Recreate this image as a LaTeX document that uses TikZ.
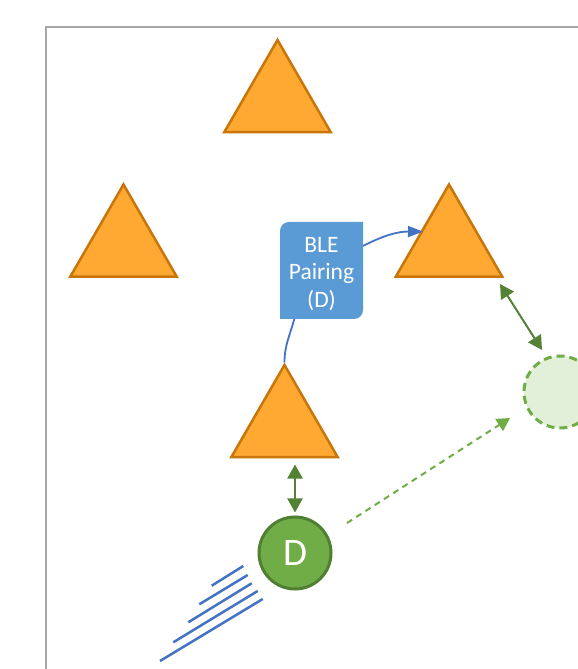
\documentclass[tikz,border=0pt]{standalone}
\usepackage{fontspec}
\setmainfont{Carlito}
\usetikzlibrary{arrows.meta,shapes.geometric}
\definecolor{triFill}{RGB}{255,169,51}
\definecolor{triLine}{RGB}{200,118,10}
\definecolor{bleBlue}{RGB}{91,155,213}
\definecolor{curveBlue}{RGB}{68,114,196}
\definecolor{darkGreen}{RGB}{84,130,53}
\definecolor{midGreen}{RGB}{112,173,71}
\definecolor{circLine}{RGB}{80,126,50}
\definecolor{paleGreen}{RGB}{226,240,217}
\definecolor{frameGray}{RGB}{166,166,166}
\tikzset{
  tri/.style={regular polygon, regular polygon sides=3, minimum size=123pt, inner sep=0pt,
    fill=triFill, draw=triLine, line width=2.5pt, line join=miter},
  blebox/.style={minimum width=83pt, minimum height=97pt, inner sep=0pt, text=white,
    align=center, font=\fontsize{23.5}{27.5}\selectfont},
  devnode/.style={circle, minimum size=72pt, inner sep=0pt, fill=midGreen, draw=circLine,
    line width=3pt, text=white, font=\fontsize{39}{40}\selectfont},
  ghost/.style={circle, minimum size=72pt, inner sep=0pt, fill=paleGreen, draw=midGreen,
    line width=3pt, dash pattern=on 8pt off 5pt},
  dbl/.style={darkGreen, line width=2pt, {Triangle[length=14pt,width=15pt]}-{Triangle[length=14pt,width=15pt]}},
  pair/.style={curveBlue, line width=1.8pt},
  move/.style={midGreen, line width=2pt, dash pattern=on 6pt off 5pt, -{Triangle[length=13pt,width=14pt]}},
  motion/.style={curveBlue, line width=2.5pt}
}
\begin{document}
\begin{tikzpicture}[x=1pt,y=1pt]
\clip (0,0) rectangle (578,669);
\fill[white] (0,0) rectangle (578,669);
% frame
\draw[frameGray, line width=2pt] (46,-20) -- (46,642) -- (620,642);
% triangles
\node[tri] (t1) at (277.5,567.5) {};
\node[tri] (t2) at (123.5,423) {};
\node[tri] (t3) at (449,423) {};
\node[tri] (t4) at (284.5,242.5) {};
% BLE box
\fill[bleBlue] (280,350) -- (280,438) arc[start angle=180, end angle=90, radius=9] -- (363,447)
  -- (363,359) arc[start angle=0, end angle=-90, radius=9] -- cycle;
\node[blebox] (ble) at (321.5,395) {BLE\\Pairing\\(D)};
% device circles
\node[devnode] (dev) at (295,116) {D};
\node[ghost] (gh) at (560,277) {};
% pairing curves
\coordinate (tipA) at (423,437.3);
\draw[pair, -{Triangle[length=15pt,width=11pt]}] (363,423) to[bend left=14] (tipA);
\draw[pair] (294.3,350) to[out=-105, in=90] (t4.corner 1);
% double arrows
\draw[dbl, shorten <=6pt, shorten >=3pt] (t4.south -| dev.north) -- (dev.north);
\coordinate (a2s) at (500,385);
\coordinate (a2e) at (542,319);
\draw[dbl] (a2s) -- (a2e);
% dashed move arrow
\coordinate (mvs) at (347,146);
\coordinate (mve) at (510,251);
\draw[move] (mvs) -- (mve);
% motion lines
\draw[motion] (211.7,83.3) -- (243.3,103);
\draw[motion] (199.3,64.7) -- (247.7,94);
\draw[motion] (188.3,46.7) -- (251.7,85.7);
\draw[motion] (173.3,26.7) -- (257.7,78);
\draw[motion] (160,8) -- (262.7,70);
\end{tikzpicture}
\end{document}
